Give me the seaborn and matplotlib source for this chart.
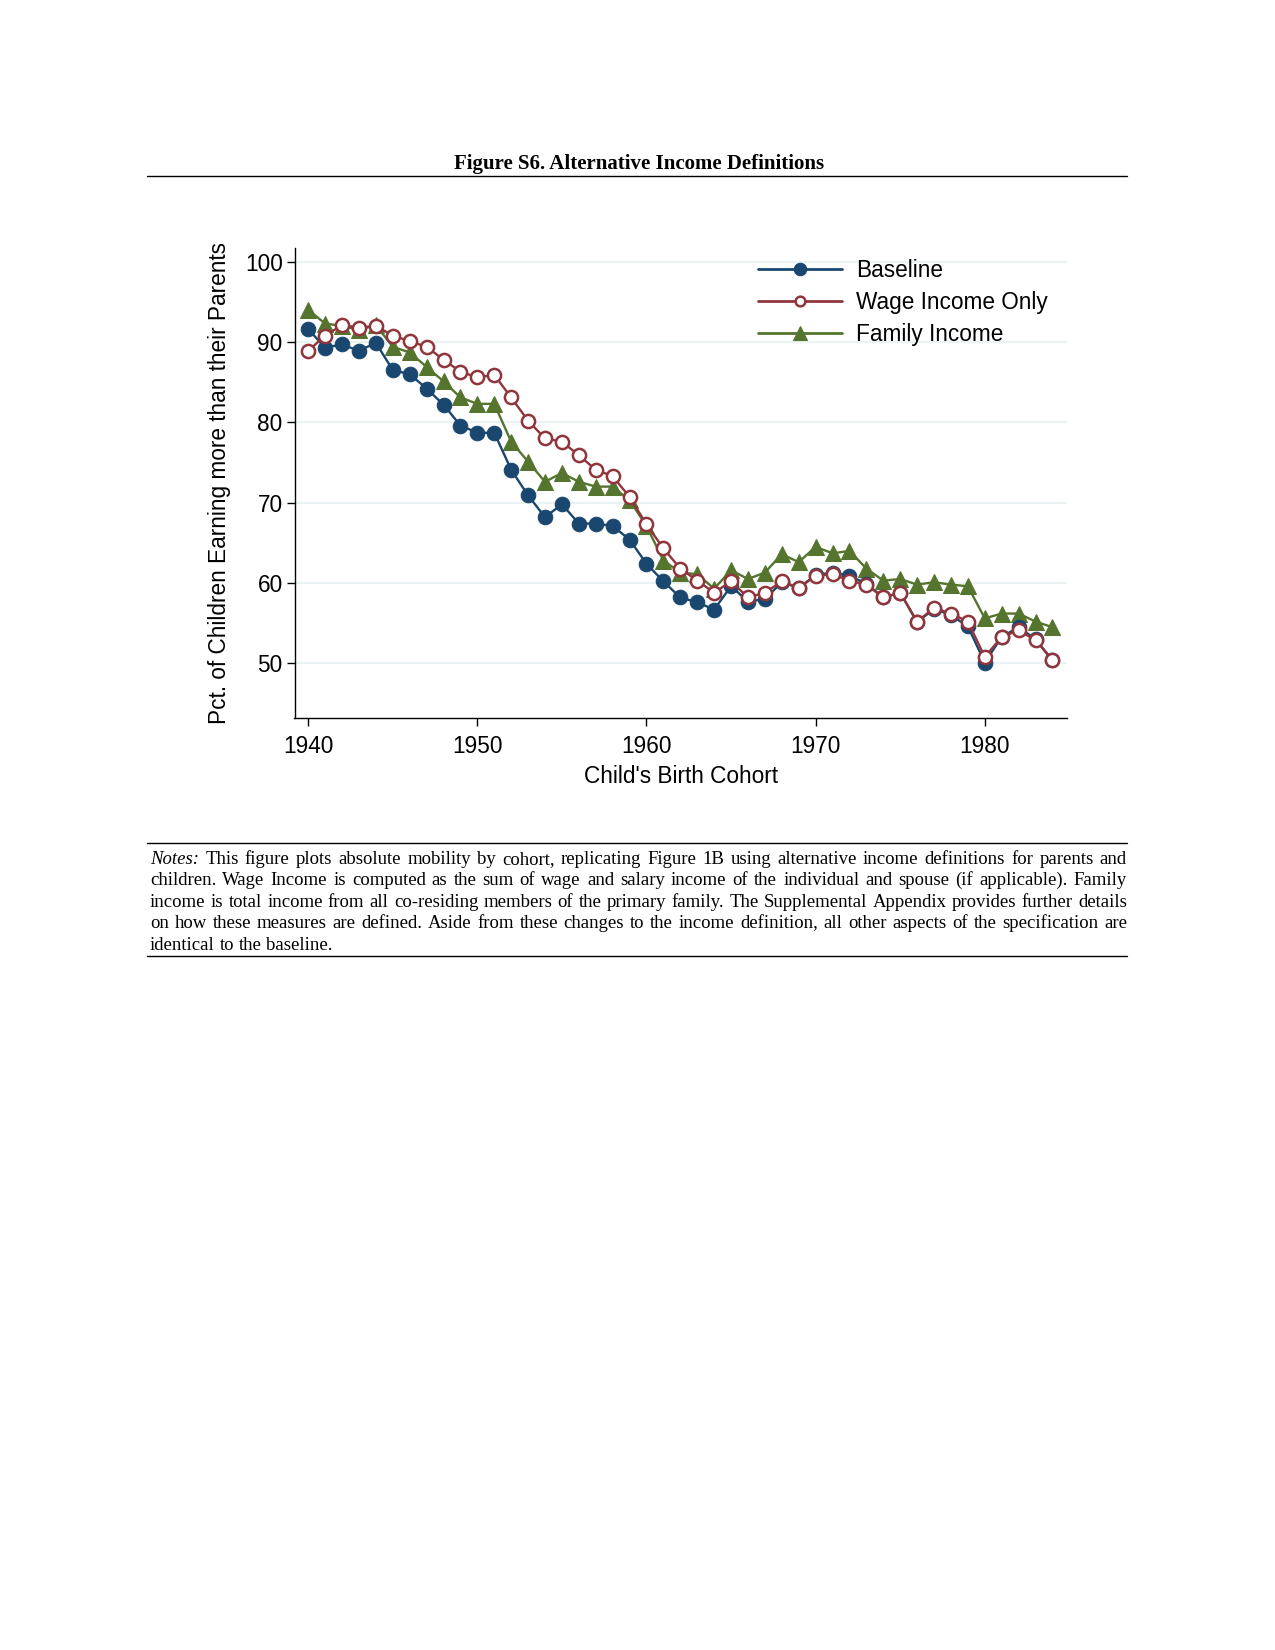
import numpy as np
import pandas as pd
import matplotlib
matplotlib.use('Agg')
import matplotlib.pyplot as plt
import seaborn as sns

# cohorts and series values (pct. of children earning more than their parents)
cohorts = list(range(1940, 1985))

baseline = [91.6, 89.3, 89.7, 88.9, 89.9, 86.5, 86.0, 84.2, 82.2, 79.6,
            78.7, 78.7, 74.1, 70.9, 68.2, 69.8, 67.4, 67.4, 67.1, 65.4,
            62.4, 60.2, 58.2, 57.6, 56.7, 59.6, 57.7, 58.0, 60.1, 59.4,
            61.0, 61.3, 60.9, 59.9, 58.2, 58.8, 55.1, 56.8, 56.0, 54.6,
            50.1, 53.3, 54.5, 53.0, 50.4]

wage_income = [88.9, 90.8, 92.1, 91.8, 92.0, 90.8, 90.1, 89.4, 87.8, 86.3,
               85.6, 85.9, 83.1, 80.2, 78.0, 77.6, 75.9, 74.1, 73.3, 70.7,
               67.3, 64.3, 61.8, 60.3, 58.8, 60.2, 58.2, 58.8, 60.2, 59.4,
               60.9, 61.1, 60.3, 59.8, 58.2, 58.8, 55.2, 56.9, 56.2, 55.2,
               50.8, 53.3, 54.1, 52.9, 50.4]

family_income = [94.0, 92.3, 92.0, 91.5, 92.1, 89.4, 88.7, 86.9, 85.1, 83.1,
                 82.3, 82.3, 77.6, 75.1, 72.6, 73.7, 72.6, 72.0, 72.0, 70.3,
                 67.1, 62.8, 61.3, 61.1, 59.3, 61.6, 60.5, 61.3, 63.6, 62.6,
                 64.5, 63.7, 64.0, 61.8, 60.3, 60.5, 59.8, 60.1, 59.8, 59.6,
                 55.6, 56.2, 56.2, 55.2, 54.5]

yticks = [50, 60, 70, 80, 90, 100]
xticks = [1940, 1950, 1960, 1970, 1980]

title = "Figure S6. Alternative Income Definitions"
note_lines = [
    "Notes: This figure plots absolute mobility by cohort, replicating Figure 1B using alternative income definitions for parents and",
    "children. Wage Income is computed as the sum of wage and salary income of the individual and spouse (if applicable). Family",
    "income is total income from all co-residing members of the primary family. The Supplemental Appendix provides further details",
    "on how these measures are defined. Aside from these changes to the income definition, all other aspects of the specification are",
    "identical to the baseline.",
]

navy = '#1a476f'
maroon = '#90353b'
green = '#55752f'

sns.set_theme(style='ticks')
plt.rcParams['font.family'] = ['Liberation Sans', 'DejaVu Sans']
plt.rcParams['text.color'] = 'black'
plt.rcParams['axes.labelcolor'] = 'black'

df = pd.DataFrame({'cohort': cohorts, 'Baseline': baseline,
                   'Wage Income Only': wage_income, 'Family Income': family_income})

fig = plt.figure(figsize=(12.75, 16.5), dpi=100)
W, H = 1275, 1650
ax = fig.add_axes([294.5 / W, 1 - 718 / H, (1067 - 294.5) / W, (718 - 248) / H])

ax.set_ylim(43.2, 101.7)
ax.set_xlim(1939.19, 1984.86)
for yt in yticks:
    ax.axhline(yt, color='#eaf2f3', lw=1.6, zorder=0)

sns.lineplot(data=df, x='cohort', y='Baseline', ax=ax, color=navy, lw=1.7,
             marker='o', markersize=10.5, markeredgecolor=navy, markerfacecolor=navy,
             label='Baseline', zorder=3)
sns.lineplot(data=df, x='cohort', y='Wage Income Only', ax=ax, color=maroon, lw=1.7,
             marker='o', markersize=9.5, markeredgecolor=maroon, markerfacecolor='white',
             markeredgewidth=1.8, label='Wage Income Only', zorder=4)
sns.lineplot(data=df, x='cohort', y='Family Income', ax=ax, color=green, lw=1.7,
             marker='^', markersize=11.5, markeredgecolor=green, markerfacecolor=green,
             label='Family Income', zorder=2)

sns.despine(ax=ax)
for s in ['left', 'bottom']:
    ax.spines[s].set_linewidth(1.0)
    ax.spines[s].set_color('black')
ax.set_xticks(xticks)
ax.set_yticks(yticks)
ax.tick_params(direction='out', length=5.5, width=1.0, labelsize=16.3, colors='black')
ax.tick_params(axis='x', pad=6.5)
ax.tick_params(axis='y', pad=3)
ax.set_xlabel("Child's Birth Cohort", fontsize=16.3, labelpad=5)
ax.set_ylabel("Pct. of Children Earning more than their Parents", fontsize=16.3, labelpad=10)

leg = ax.legend(loc='upper left', bbox_to_anchor=(0.6005, 0.976), frameon=False,
                fontsize=16.3, handlelength=3.7, handletextpad=0.6, labelspacing=0.4,
                borderpad=0, borderaxespad=0)
for h, ms in zip(leg.legend_handles, [9, 7, 10]):
    h.set_markersize(ms)
    h.set_linewidth(2.0)

# title and rules
serif = ['Liberation Serif', 'DejaVu Serif']
fig.text(639 / W, 1 - 164 / H, title, ha='center', va='center', fontsize=15,
         fontweight='bold', family=serif)
for yy in [176, 843, 956]:
    fig.add_artist(plt.Line2D([147 / W, 1127 / W], [1 - yy / H, 1 - yy / H],
                              color='black', lw=1.0, transform=fig.transFigure))

# justified notes
fig.canvas.draw()
renderer = fig.canvas.get_renderer()
note_size = 13.5


def word_width(s, style):
    t = fig.text(0, 0, s, fontsize=note_size, family=serif, style=style)
    w = t.get_window_extent(renderer).width
    t.remove()
    return w


x0, x1 = 150, 1127
line_base = [864, 885, 907, 928, 950]
for i, line in enumerate(note_lines):
    words = line.split(' ')
    styles = ['italic' if (i == 0 and j == 0) else 'normal' for j in range(len(words))]
    widths = [word_width(w, st) for w, st in zip(words, styles)]
    if i < len(note_lines) - 1:
        gap = (x1 - x0 - sum(widths)) / (len(words) - 1)
    else:
        gap = word_width('a b', 'normal') - word_width('ab', 'normal')
    x = x0
    for w, st, wd in zip(words, styles, widths):
        fig.text(x / W, 1 - line_base[i] / H, w, fontsize=note_size, family=serif,
                 style=st, ha='left', va='baseline')
        x += wd + gap

fig.savefig('out.png', dpi=100)
